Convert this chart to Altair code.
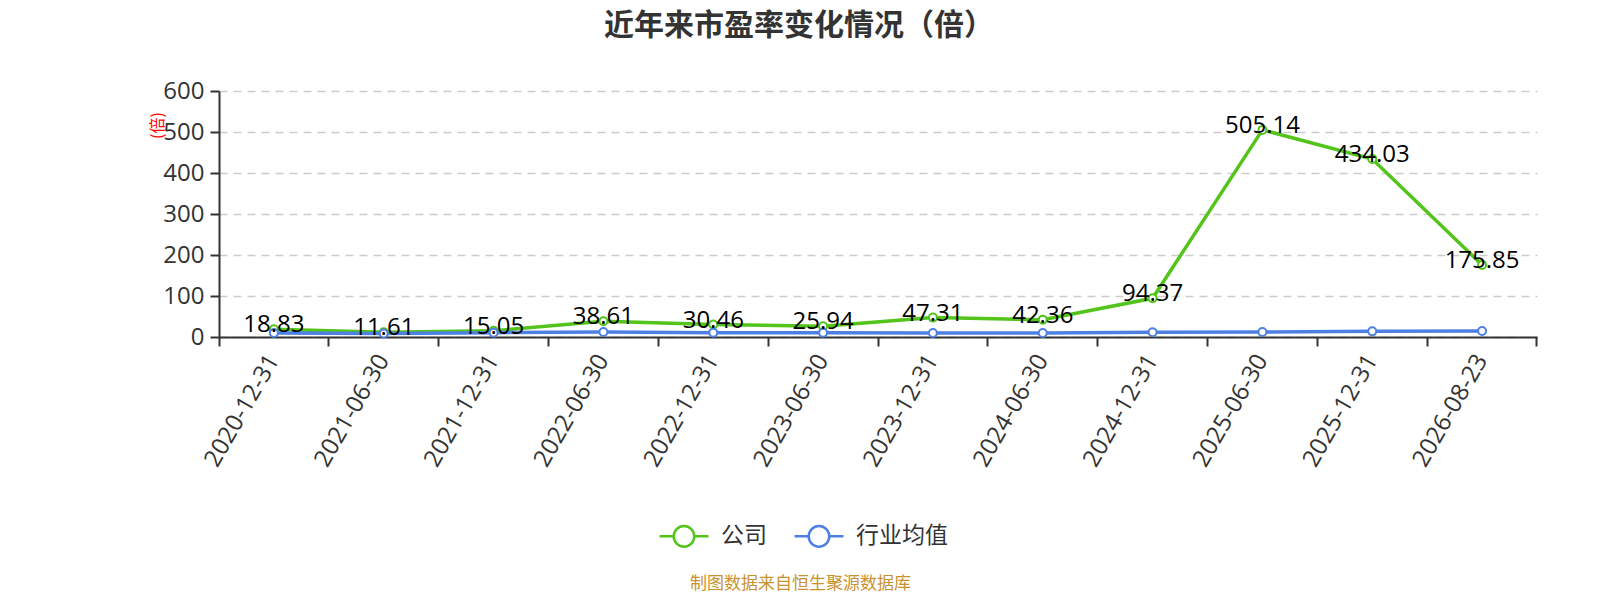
import altair as alt
import pandas as pd

dates = ["2020-12-31", "2021-06-30", "2021-12-31", "2022-06-30", "2022-12-31", "2023-06-30",
         "2023-12-31", "2024-06-30", "2024-12-31", "2025-06-30", "2025-12-31", "2026-08-23"]
company = [18.83, 11.61, 15.05, 38.61, 30.46, 25.94, 47.31, 42.36, 94.37, 505.14, 434.03, 175.85]
industry = [9.8, 8.5, 10.6, 12.2, 10.6, 10.6, 9.8, 9.8, 11.4, 12.2, 13.8, 14.5]
series_names = ["公司", "行业均值"]
colors = ["#52c41a", "#4e80e3"]
y_ticks = [0, 100, 200, 300, 400, 500, 600]

rows = []
for d, c, i in zip(dates, company, industry):
    rows.append({"date": d, "series": series_names[0], "value": c, "label": f"{c:.2f}"})
    rows.append({"date": d, "series": series_names[1], "value": i, "label": f"{i:.2f}"})
df = pd.DataFrame(rows)

PW, PH = 1318, 246
CJK = "Noto Sans CJK SC"
NUM = "Open Sans"

x_enc = alt.X(
    "date:N", sort=dates,
    scale=alt.Scale(type="band", paddingInner=0, paddingOuter=0),
    axis=alt.Axis(
        title="制图数据来自恒生聚源数据库", titleColor="#c8922e", titleFontSize=17,
        titleFont=CJK, titleFontWeight="normal", titleX=581, titleY=246,
        titleAlign="center", titleBaseline="middle",
        labelAngle=300, labelAlign="right", labelBaseline="middle",
        labelFontSize=24, labelFont=NUM, labelColor="#333", labelPadding=10,
        labelOverlap=False, bandPosition=1, tickExtra=True,
        tickSize=9, tickWidth=2, tickColor="#333", domainColor="#333", domainWidth=2,
        grid=False,
    ),
)
y_enc = alt.Y(
    "value:Q",
    scale=alt.Scale(domain=[0, 600], nice=False),
    axis=alt.Axis(
        values=y_ticks, title="(倍)", titleColor="red", titleFontSize=16,
        titleFont=CJK, titleFontWeight="normal", titleX=-62, titleY=34,
        titleAngle=270, titleAlign="center", titleBaseline="middle",
        labelFontSize=24, labelFont=NUM, labelColor="#333", labelPadding=6,
        tickSize=9, tickWidth=2, tickColor="#333", domainColor="#333", domainWidth=2,
        grid=True, gridDash=[8, 6], gridColor="#cccccc", gridWidth=1.5,
    ),
)

base = alt.Chart(df).encode(x=x_enc, y=y_enc)

legend_path = ("M-1,0L-0.42,0M0.42,0L1,0M0.42,0A0.42,0.42,0,1,1,-0.42,0"
               "A0.42,0.42,0,1,1,0.42,0")

lines = base.mark_line(strokeWidth=3.5).encode(
    color=alt.Color(
        "series:N", sort=series_names,
        scale=alt.Scale(domain=series_names, range=colors),
        legend=alt.Legend(
            title=None, orient="none", legendX=439, legendY=419, direction="horizontal",
            symbolType=legend_path, symbolSize=2400, symbolStrokeWidth=2.5,
            symbolFillColor="white", labelFontSize=23, labelFont=CJK, labelColor="#333",
            labelOffset=11, columnPadding=22, padding=0,
        ),
    )
)
points = base.mark_point(shape="circle", filled=False, fill="white", size=64,
                         strokeWidth=2, opacity=1).encode(
    stroke=alt.Stroke("series:N", scale=alt.Scale(domain=series_names, range=colors),
                      legend=None)
)
labels = base.transform_filter(alt.datum.series == series_names[0]).mark_text(
    dy=-4, fontSize=24, font=NUM, color="black", baseline="middle", align="center"
).encode(text="label:N")

chart = alt.layer(lines, points, labels).properties(
    width=PW, height=PH,
    autosize=alt.AutoSizeParams(type="none"),
    padding={"left": 211, "top": 83, "right": 55, "bottom": 255},
    background="white",
    title=alt.TitleParams(
        "近年来市盈率变化情况（倍）", anchor="middle", frame="group", dx=-79, dy=2,
        fontSize=30, font=CJK, fontWeight="bold", color="#333", offset=40,
    ),
).configure_view(stroke=None)

chart.save("out.html", embed_options={"renderer": "svg", "actions": False})
